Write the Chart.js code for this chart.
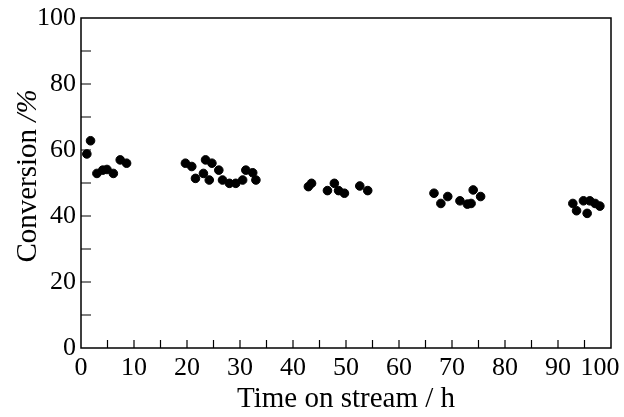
<!DOCTYPE html>
<html>
<head>
<meta charset="utf-8">
<script src="https://cdn.jsdelivr.net/npm/chart.js"></script>
<style>
  html, body { margin: 0; padding: 0; background: #fff; }
  #wrap { width: 624px; height: 417px; }
</style>
</head>
<body>
<div id="wrap"><canvas id="chart"></canvas></div>
<script>
// Conversion vs time on stream
const timeH = [
  1.1, 1.8, 3.0, 4.1, 4.9, 6.1, 7.4, 8.6,
  19.7, 20.9, 21.6, 23.1, 23.5, 24.2, 24.7, 26.0, 26.7, 28.0, 29.2, 30.5, 31.1, 32.4, 33.0,
  42.9, 43.5, 46.5, 47.8, 48.6, 49.7, 52.6, 54.1,
  66.6, 67.9, 69.2, 71.5, 72.9, 73.6, 74.0, 75.4,
  92.8, 93.5, 94.8, 95.5, 96.0, 97.0, 97.9
];
const conversion = [
  58.8, 62.8, 52.9, 53.9, 54.1, 52.9, 57.0, 56.0,
  56.0, 55.0, 51.4, 52.9, 57.0, 50.9, 56.0, 53.9, 50.9, 49.9, 49.9, 50.9, 53.9, 53.1, 50.9,
  48.9, 49.9, 47.7, 49.9, 47.7, 46.9, 49.1, 47.7,
  46.9, 43.8, 45.9, 44.6, 43.6, 43.8, 47.9, 45.9,
  43.8, 41.6, 44.6, 40.8, 44.6, 43.8, 43.0
];

const xTicks = [0, 10, 20, 30, 40, 50, 60, 70, 80, 90, 100];
const yTicks = [0, 20, 40, 60, 80, 100];
const xMinorStep = 5;
const yMinorStep = 10;

const FONT = '"Liberation Serif", "Times New Roman", serif';

// Pull the last x label ("100") back inside the canvas, as in the original
const lastLabelPlugin = {
  id: 'lastLabel',
  beforeDraw(chart) {
    const items = chart.scales.x.getLabelItems();
    const last = items[items.length - 1];
    if (last && !last._moved) {
      last.options.translation[0] -= 11;
      last._moved = true;
    }
  }
};

// Frame, inward tick marks and the y title with italic "/%"
const framePlugin = {
  id: 'frame',
  afterDraw(chart) {
    const ctx = chart.ctx;
    const a = chart.chartArea;
    const xs = chart.scales.x;
    const ys = chart.scales.y;
    ctx.save();
    ctx.strokeStyle = '#000';
    ctx.lineWidth = 1.5;
    ctx.strokeRect(a.left, a.top, a.right - a.left, a.bottom - a.top);

    ctx.lineWidth = 1.2;
    ctx.beginPath();
    for (let v = xs.min + xMinorStep; v < xs.max; v += xMinorStep) {
      const px = xs.getPixelForValue(v);
      ctx.moveTo(px, a.bottom);
      ctx.lineTo(px, a.bottom - 8);
    }
    for (let v = ys.min + yMinorStep; v < ys.max; v += yMinorStep) {
      const py = ys.getPixelForValue(v);
      ctx.moveTo(a.left, py);
      ctx.lineTo(a.left + 10, py);
    }
    ctx.stroke();

    // y axis title
    const cx = 28;
    const cy = 176;
    const part1 = 'Conversion ';
    const part2 = '/%';
    ctx.translate(cx, cy);
    ctx.rotate(-Math.PI / 2);
    ctx.fillStyle = '#000';
    ctx.textBaseline = 'middle';
    ctx.font = '29px ' + FONT;
    const w1 = ctx.measureText(part1).width;
    ctx.font = 'italic 29px ' + FONT;
    const w2 = ctx.measureText(part2).width;
    const start = -(w1 + w2) / 2;
    ctx.font = '29px ' + FONT;
    ctx.textAlign = 'left';
    ctx.fillText(part1, start, 0);
    ctx.font = 'italic 29px ' + FONT;
    ctx.fillText(part2, start + w1, 0);
    ctx.restore();
  }
};

new Chart(document.getElementById('chart'), {
  type: 'scatter',
  data: {
    datasets: [{
      label: 'Conversion',
      data: timeH.map((t, i) => ({ x: t, y: conversion[i] })),
      backgroundColor: '#000',
      borderColor: '#000',
      pointRadius: 4.3,
      pointHoverRadius: 4.3
    }]
  },
  options: {
    responsive: true,
    maintainAspectRatio: false,
    animation: false,
    layout: {
      autoPadding: false,
      padding: { left: 0, right: 13, top: 18, bottom: 0 }
    },
    plugins: {
      legend: { display: false },
      tooltip: { enabled: false }
    },
    scales: {
      x: {
        type: 'linear',
        min: 0,
        max: 100,
        border: { display: false },
        grid: { display: false, drawTicks: false },
        afterBuildTicks: (scale) => {
          scale.ticks = xTicks.map(v => ({ value: v }));
        },
        ticks: {
          color: '#000',
          font: { family: FONT, size: 26 },
          padding: 5,
          maxRotation: 0,
          autoSkip: false
        },
        title: {
          display: true,
          text: 'Time on stream / h',
          color: '#000',
          font: { family: FONT, size: 29 },
          padding: { top: 0, bottom: 0 }
        },
        afterFit: (scale) => {
          scale.height = 69;
          scale.paddingLeft = 0;
          scale.paddingRight = 0;
        }
      },
      y: {
        type: 'linear',
        min: 0,
        max: 100,
        border: { display: false },
        grid: { display: false, drawTicks: false },
        afterBuildTicks: (scale) => {
          scale.ticks = yTicks.map(v => ({ value: v }));
        },
        ticks: {
          color: '#000',
          font: { family: FONT, size: 26 },
          padding: 5,
          autoSkip: false
        },
        afterFit: (scale) => {
          scale.width = 81;
          scale.paddingTop = 0;
          scale.paddingBottom = 0;
        }
      }
    }
  },
  plugins: [lastLabelPlugin, framePlugin]
});
</script>
</body>
</html>
